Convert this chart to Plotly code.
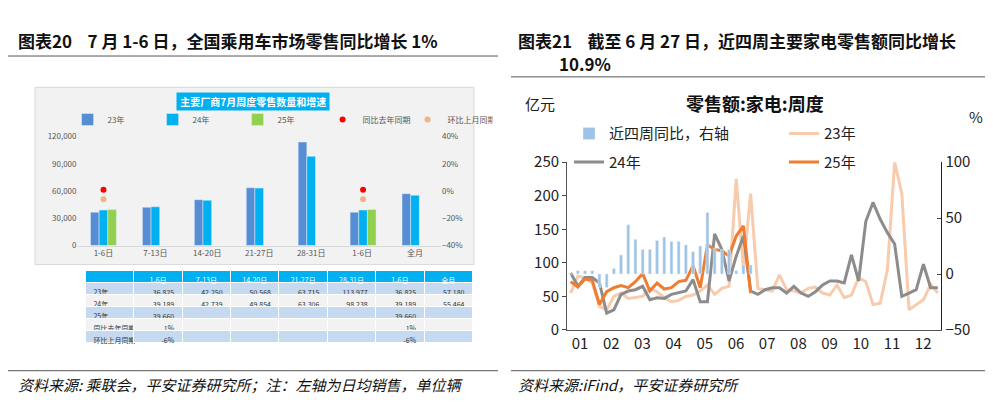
import plotly.graph_objects as go

# 左图：乘用车周度零售
periods = ["1-6日", "7-13日", "14-20日", "21-27日", "28-31日", "1-6日 ", "全月"]
sales_23 = [36825, 42250, 50568, 63715, 113977, 36825, 57180]
sales_24 = [39189, 42739, 49854, 63306, 98238, 39189, 55464]
sales_25 = [39660, None, None, None, None, 39660, None]
yoy = [1, None, None, None, None, 1, None]
mom = [-6, None, None, None, None, -6, None]

# 右图：家电零售额周度
weeks = list(range(1, 53))
month_ticks = ["01", "02", "03", "04", "05", "06", "07", "08", "09", "10", "11", "12"]
ret_23 = [55, 80, 78, 70, 35, 30, 50, 55, 47, 48, 50, 62, 57, 48, 42, 44, 50, 52, 58, 67,
          53, 62, 65, 225, 90, 203, 62, 60, 58, 82, 60, 58, 55, 62, 64, 55, 52, 67, 48, 52,
          78, 72, 38, 40, 90, 250, 203, 30, 38, 45, 68, 55]
ret_24 = [85, 65, 78, 78, 70, 25, 30, 53, 58, 60, 65, 45, 48, 47, 53, 55, 58, 75, 42, 42,
          143, 120, 73, 110, 140, 58, 53, 60, 63, 63, 55, 65, 55, 50, 57, 67, 73, 73, 70, 112,
          73, 162, 190, 165, 145, 128, 50, 55, 60, 98, 63, 63]
ret_25 = [72, 64, 76, 74, 38, 57, 63, 66, 63, 72, 84, 58, 70, 61, 63, 72, 74, 96, 63, 127,
          120, 118, 110, 140, 155, 55]
yoy4w = [0, 3, 3, 3, -12, -12, 5, 17, 44, 31, 22, 22, 30, 33, 29, 29, 26, 20, 25, 55,
         23, 22, 22, 3, 8, 8]

BLUE23 = "#558ed5"
CYAN = "#00b0f0"
GREEN = "#92d050"
FONT = "Noto Sans CJK SC"

fig = go.Figure()

fig.add_trace(go.Bar(x=periods, y=sales_23, name="23年", marker_color=BLUE23,
                     xaxis="x", yaxis="y", legend="legend"))
fig.add_trace(go.Bar(x=periods, y=sales_24, name="24年", marker_color=CYAN,
                     xaxis="x", yaxis="y", legend="legend"))
fig.add_trace(go.Bar(x=periods, y=sales_25, name="25年", marker_color=GREEN,
                     xaxis="x", yaxis="y", legend="legend"))
fig.add_trace(go.Scatter(x=periods, y=yoy, name="同比去年同期", mode="lines+markers",
                         marker=dict(color="red", size=6), line=dict(color="red", width=0),
                         xaxis="x", yaxis="y2", legend="legend"))
fig.add_trace(go.Scatter(x=periods, y=mom, name="环比上月同期", mode="lines+markers",
                         marker=dict(color="#f4b183", size=6), line=dict(color="#f4b183", width=0),
                         xaxis="x", yaxis="y2", legend="legend"))

# 表格
row_names = ["23年", "24年", "25年", "同比去年同期", "环比上月同期"]
def fmt(v, pct=False):
    if v is None:
        return ""
    return f"{v}%" if pct else f"{v:,}"
cols = [row_names]
for i in range(len(periods)):
    cols.append([fmt(sales_23[i]), fmt(sales_24[i]), fmt(sales_25[i]),
                 fmt(yoy[i], True), fmt(mom[i], True)])
row_fill = ["#c5d9f1", "#f2f2f2", "#c5d9f1", "#f2f2f2", "#c5d9f1"]
fig.add_trace(go.Table(
    domain=dict(x=[0.078, 0.468], y=[1 - 350 / 403, 1 - 264 / 403]),
    columnwidth=[1.0] + [1.0] * 7,
    header=dict(values=[""] + [p.strip() for p in periods], fill_color=CYAN,
                font=dict(color="white", size=7, family=FONT), height=12,
                line=dict(color="white", width=1), align="center"),
    cells=dict(values=cols, fill_color=[row_fill] * 8, height=12,
               font=dict(color="#333", size=7, family=FONT),
               line=dict(color="white", width=1), align=["left"] + ["right"] * 7),
))

# 右图
fig.add_trace(go.Bar(x=weeks[:len(yoy4w)], y=yoy4w, name="近四周同比，右轴",
                     marker_color="#9dc3e6", xaxis="x2", yaxis="y4", legend="legend2",
                     width=0.4))
fig.add_trace(go.Scatter(x=weeks, y=ret_23, name="23年", mode="lines",
                         line=dict(color="#f8cbad", width=3), xaxis="x2", yaxis="y3",
                         legend="legend2"))
fig.add_trace(go.Scatter(x=weeks, y=ret_24, name="24年", mode="lines",
                         line=dict(color="#8c8c8c", width=3), xaxis="x2", yaxis="y3",
                         legend="legend3"))
fig.add_trace(go.Scatter(x=weeks[:len(ret_25)], y=ret_25, name="25年", mode="lines",
                         line=dict(color="#ed7d31", width=3), xaxis="x2", yaxis="y3",
                         legend="legend3"))

tick_pos = [2.3 + i * 52 / 12 for i in range(12)]

fig.update_layout(
    width=993, height=403, margin=dict(l=0, r=0, t=0, b=0),
    paper_bgcolor="white", plot_bgcolor="rgba(0,0,0,0)",
    font=dict(family=FONT, color="#333"),
    barmode="group", bargap=0.5, bargroupgap=0,
    xaxis=dict(domain=[0.07, 0.436], anchor="y", showline=True, linecolor="#d9d9d9",
               tickfont=dict(size=8, color="#555"), ticks=""),
    yaxis=dict(domain=[1 - 238 / 403, 1 - 123 / 403], range=[0, 120000], dtick=30000,
               tickformat=",", showgrid=False, zeroline=False,
               tickfont=dict(size=8, color="#555")),
    yaxis2=dict(overlaying="y", side="right", range=[-40, 40], dtick=20, ticksuffix="%",
                showgrid=False, zeroline=False, tickfont=dict(size=8, color="#555")),
    xaxis2=dict(domain=[0.563, 0.94], anchor="y3", range=[0.5, 52.5], showline=True,
                linecolor="#555", tickvals=tick_pos, ticktext=month_ticks, ticks="",
                tickfont=dict(size=15, color="#222"), showgrid=False),
    yaxis3=dict(domain=[1 - 327 / 403, 1 - 150 / 403], anchor="x2", range=[0, 250],
                dtick=50, showline=True, linecolor="#555", ticks="outside", ticklen=4,
                showgrid=False, zeroline=False, tickfont=dict(size=15, color="#222")),
    yaxis4=dict(overlaying="y3", side="right", anchor="x2", range=[-50, 100], dtick=50,
                showline=True, linecolor="#222", ticks="inside", ticklen=4,
                showgrid=False, zeroline=False, tickfont=dict(size=15, color="#222")),
    legend=dict(orientation="h", x=0.06, y=1 - 105 / 403, yanchor="middle",
                font=dict(size=8, color="#555"), itemwidth=30, entrywidth=40,
                bgcolor="rgba(0,0,0,0)", tracegroupgap=0),
    legend2=dict(orientation="h", x=0.565, y=1 - 120 / 403, yanchor="middle",
                 font=dict(size=15, color="#222"), entrywidth=170, bgcolor="rgba(0,0,0,0)"),
    legend3=dict(orientation="h", x=0.565, y=1 - 150 / 403, yanchor="middle",
                 font=dict(size=15, color="#222"), entrywidth=170, bgcolor="rgba(0,0,0,0)"),
)

shapes = [
    # 左侧灰色背景
    dict(type="rect", xref="paper", yref="paper", x0=27 / 993, x1=466 / 993,
         y0=1 - 258 / 403, y1=1 - 71 / 403, fillcolor="#f2f2f2",
         line=dict(color="#d9d9d9", width=1), layer="below"),
    # 标题下横线
    dict(type="line", xref="paper", yref="paper", x0=0, x1=490 / 993,
         y0=1 - 38 / 403, y1=1 - 38 / 403, line=dict(color="#555", width=1)),
    dict(type="line", xref="paper", yref="paper", x0=503 / 993, x1=1,
         y0=1 - 60 / 403, y1=1 - 60 / 403, line=dict(color="#555", width=1)),
    # 来源上横线
    dict(type="line", xref="paper", yref="paper", x0=0, x1=490 / 993,
         y0=1 - 370 / 403, y1=1 - 370 / 403, line=dict(color="#555", width=1)),
    dict(type="line", xref="paper", yref="paper", x0=503 / 993, x1=1,
         y0=1 - 370 / 403, y1=1 - 370 / 403, line=dict(color="#555", width=1)),
]
fig.update_layout(shapes=shapes)

ann = [
    dict(text="<b>图表20    7 月 1-6 日，全国乘用车市场零售同比增长 1%</b>", x=8 / 993,
         y=1 - 22 / 403, font=dict(size=17, color="#111"), xanchor="left"),
    dict(text="<b>图表21    截至 6 月 27 日，近四周主要家电零售额同比增长</b>", x=508 / 993,
         y=1 - 22 / 403, font=dict(size=17, color="#111"), xanchor="left"),
    dict(text="<b>10.9%</b>", x=549 / 993, y=1 - 46 / 403,
         font=dict(size=17, color="#111"), xanchor="left"),
    dict(text="<b> 主要厂商7月周度零售数量和增速 </b>", x=0.247, y=1 - 86 / 403,
         font=dict(size=10, color="white"), bgcolor=CYAN, xanchor="center"),
    dict(text="<b>零售额:家电:周度</b>", x=0.752, y=1 - 88 / 403,
         font=dict(size=18, color="#111"), xanchor="center"),
    dict(text="亿元", x=515 / 993, y=1 - 88 / 403, font=dict(size=15, color="#222"),
         xanchor="left"),
    dict(text="%", x=968 / 993, y=1 - 102 / 403, font=dict(size=15, color="#222"),
         xanchor="center"),
    dict(text="<i>资料来源: 乘联会，平安证券研究所；注：左轴为日均销售，单位辆</i>", x=8 / 993,
         y=1 - 385 / 403, font=dict(size=15, color="#111"), xanchor="left"),
    dict(text="<i>资料来源:iFind，平安证券研究所</i>", x=508 / 993,
         y=1 - 385 / 403, font=dict(size=15, color="#111"), xanchor="left"),
]
for a in ann:
    a.update(xref="paper", yref="paper", showarrow=False, yanchor="middle")
fig.update_layout(annotations=ann)

fig.write_html("out.html")
